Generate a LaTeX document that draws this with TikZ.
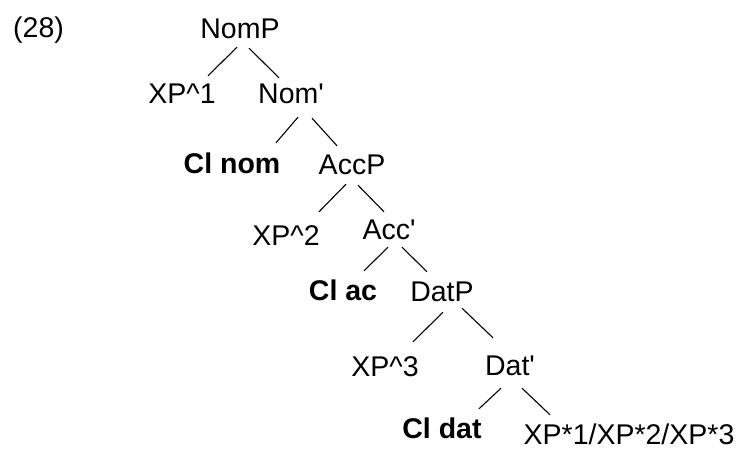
\documentclass[tikz,border=0pt]{standalone}
\usepackage{fontspec}
\setmainfont{Liberation Sans}
\usetikzlibrary{calc}
% straight prime mark for bar-level labels
\newcommand{\barlevel}{\textquotesingle}
\begin{document}
\begin{tikzpicture}[x=1pt,y=-1pt,
  lbl/.style={anchor=base,inner sep=0pt,text height=20pt,text depth=6pt,
    font=\fontsize{28.5}{30}\selectfont},
  clitic/.style={lbl,font=\fontsize{28.5}{30}\selectfont\bfseries},
  branch/.style={draw=black,line width=1.1pt}]
\useasboundingbox (0,0) rectangle (744,449);
% example number
\node[lbl,anchor=base west] (num) at (13,38) {(28)};
% tree nodes, placed by baseline
\node[lbl] (NomP)   at (240,39)  {NomP};
\node[lbl] (XPa)    at (182,104) {XP\^{}1};
\node[lbl] (Nomb)   at (291,104) {Nom\barlevel};
\node[clitic] (Clnom) at (232,174) {Cl nom};
\node[lbl] (AccP)   at (352,175) {AccP};
\node[lbl] (XPb)    at (286,245) {XP\^{}2};
\node[lbl] (Accb)   at (389,240) {Acc\barlevel};
\node[clitic] (Clac) at (343,300) {Cl ac};
\node[lbl] (DatP)   at (442,301) {DatP};
\node[lbl] (XPc)    at (385,376) {XP\^{}3};
\node[lbl] (Datb)   at (510,375) {Dat\barlevel};
\node[clitic] (Cldat) at (442,438) {Cl dat};
\node[lbl,text depth=1pt] (XPs) at (629,444) {XP*1/XP*2/XP*3};
% branches
\draw[branch] ($(NomP.south)+(-3,2)$)  -- ($(XPa.north)+(26,-8)$);
\draw[branch] ($(NomP.south)+(9,3)$)   -- ($(Nomb.north)+(-12,-6)$);
\draw[branch] ($(Nomb.south)+(7,7)$)   -- ($(Clnom.north)+(44,-11)$);
\draw[branch] ($(Nomb.south)+(21,8)$)  -- ($(AccP.north)+(-15,-9)$);
\draw[branch] ($(AccP.south)+(-6,3)$)  -- ($(XPb.north)+(33,-13)$);
\draw[branch] ($(AccP.south)+(6,4)$)   -- ($(Accb.north)+(-5,-8)$);
\draw[branch] ($(Accb.south)+(-1,1)$)  -- ($(Clac.north)+(21,-9)$);
\draw[branch] ($(Accb.south)+(13,1)$)  -- ($(DatP.north)+(-15,-9)$);
\draw[branch] ($(DatP.south)+(1,5)$)   -- ($(XPc.north)+(28,-14)$);
\draw[branch] ($(DatP.south)+(20,1)$)  -- ($(Datb.north)+(-17,-17)$);
\draw[branch] ($(Datb.south)+(-9,7)$)  -- ($(Cldat.north)+(37,-9)$);
\draw[branch] ($(Datb.south)+(12,7)$)  -- ($(XPs.north)+(-79,-9)$);
\end{tikzpicture}
\end{document}
